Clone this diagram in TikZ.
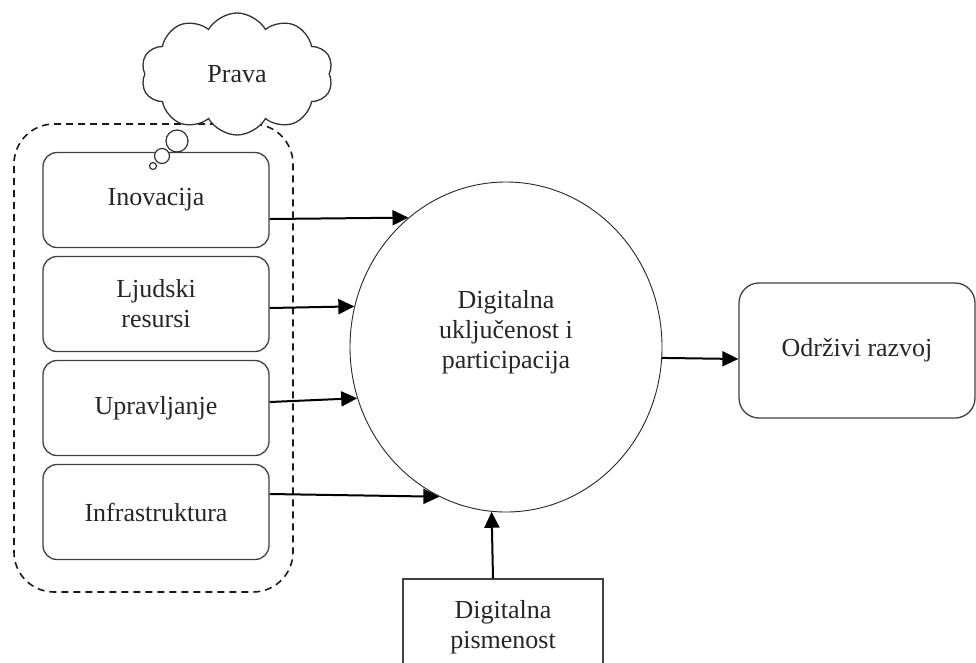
\documentclass[tikz,border=0pt]{standalone}
\usepackage{fontspec}
\setmainfont{Liberation Serif}
\usetikzlibrary{shapes.geometric, shapes.symbols, arrows.meta, positioning}
\tikzstyle{block} = [rectangle, rounded corners=14pt, minimum width=226pt, minimum height=95pt, text centered, align=center, draw=black!75, line width=1.3pt]
\tikzstyle{arrow} = [line width=2pt, -{Triangle[length=16pt, width=15pt]}]
\tikzstyle{bubble} = [circle, draw=black!80, line width=1.2pt, fill=white, inner sep=0pt]

\begin{document}
\begin{tikzpicture}[x=1pt, y=-1pt, node distance=104pt, font=\fontsize{26}{30}\selectfont, text=black!85]
\useasboundingbox (0,0) rectangle (976,662);
\clip (0,0) rectangle (976,662);
% Boxes on the left
\node (inovacija) [block] at (156,200) {Inovacija};
\node (ljudskiResursi) [block, below of=inovacija] {Ljudski\\resursi};
\node (upravljanje) [block, below of=ljudskiResursi] {Upravljanje};
\node (infrastruktura) [block, below of=upravljanje] {Infrastruktura};
\node (okvir) [draw=black!90, dash pattern=on 7pt off 5pt, line width=1.6pt, rounded corners=40pt, minimum width=279pt, minimum height=468pt] at (153.5,358) {};
% Thought cloud
\node (prava) [cloud, draw=black!80, line width=1.3pt, fill=white, cloud puffs=10, cloud puff arc=120, aspect=1.6, minimum width=192pt, minimum height=122pt, inner sep=0pt] at (237,74) {Prava};
\node (mjehurA) [bubble, minimum size=22pt] at (177,141) {};
\node (mjehurB) [bubble, minimum size=15pt] at (162,156) {};
\node (mjehurC) [bubble, minimum size=7pt] at (153,166) {};
% Middle and right
\node (digitalnaUkljucenost) [ellipse, draw=black!85, line width=0.9pt, minimum width=312pt, minimum height=330pt, inner sep=0pt, align=center] at (506,347) {Digitalna\\uključenost i\\participacija\\[6pt]};
\node (odrziviRazvoj) [block, rounded corners=20pt, minimum width=236pt, minimum height=135pt] at (857,350.5) {Održivi razvoj};
\node (digitalnaPismenost) [block, sharp corners, minimum width=200pt, minimum height=96pt] at (503,627) {Digitalna\\pismenost};
% Arrows
\draw [arrow] ([yshift=-19pt]inovacija.east) -- (digitalnaUkljucenost.127.6);
\draw [arrow] ([yshift=-4pt]ljudskiResursi.east) -- (digitalnaUkljucenost.165.2);
\draw [arrow] ([yshift=6pt]upravljanje.east) -- (digitalnaUkljucenost.199.7);
\draw [arrow] ([yshift=18pt]infrastruktura.east) -- (digitalnaUkljucenost.246.6);
\draw [arrow] (digitalnaUkljucenost.-4.4) -- ([yshift=-8.5pt]odrziviRazvoj.west);
\draw [arrow] ([xshift=-10pt]digitalnaPismenost.north) -- (digitalnaUkljucenost.265.5);
\end{tikzpicture}
\end{document}
